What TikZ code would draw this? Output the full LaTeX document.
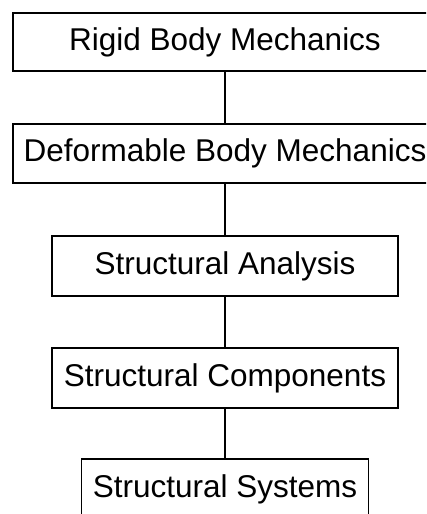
\documentclass[tikz,border=0pt]{standalone}
\usepackage{fontspec}
\setmainfont{Liberation Sans}
\begin{document}
\begin{tikzpicture}[x=1pt,y=1pt,
  box/.style={draw=black,line width=1.6pt,fill=white,inner sep=0pt,font=\fontsize{31.5}{34}\selectfont},
  link/.style={draw=black,line width=1.2pt}]
\useasboundingbox (0,0) rectangle (426,-514);
\clip (0,0) rectangle (426,-514);
\node[box,minimum width=424,minimum height=58] (rbm) at (225,-42) {Rigid Body Mechanics};
\node[box,minimum width=424,minimum height=59] (dbm) at (225,-153.5) {Deformable Body Mechanics};
\node[box,minimum width=346,minimum height=60] (sa) at (225,-266) {Structural Analysis};
\node[box,minimum width=346,minimum height=60] (sc) at (225,-378) {Structural Components};
\node[box,minimum width=287,minimum height=61] (ss) at (225,-489.5) {Structural Systems};
\draw[link] (rbm.south) -- (dbm.north);
\draw[link] (dbm.south) -- (sa.north);
\draw[link] (sa.south) -- (sc.north);
\draw[link] (sc.south) -- (ss.north);
\end{tikzpicture}
\end{document}
